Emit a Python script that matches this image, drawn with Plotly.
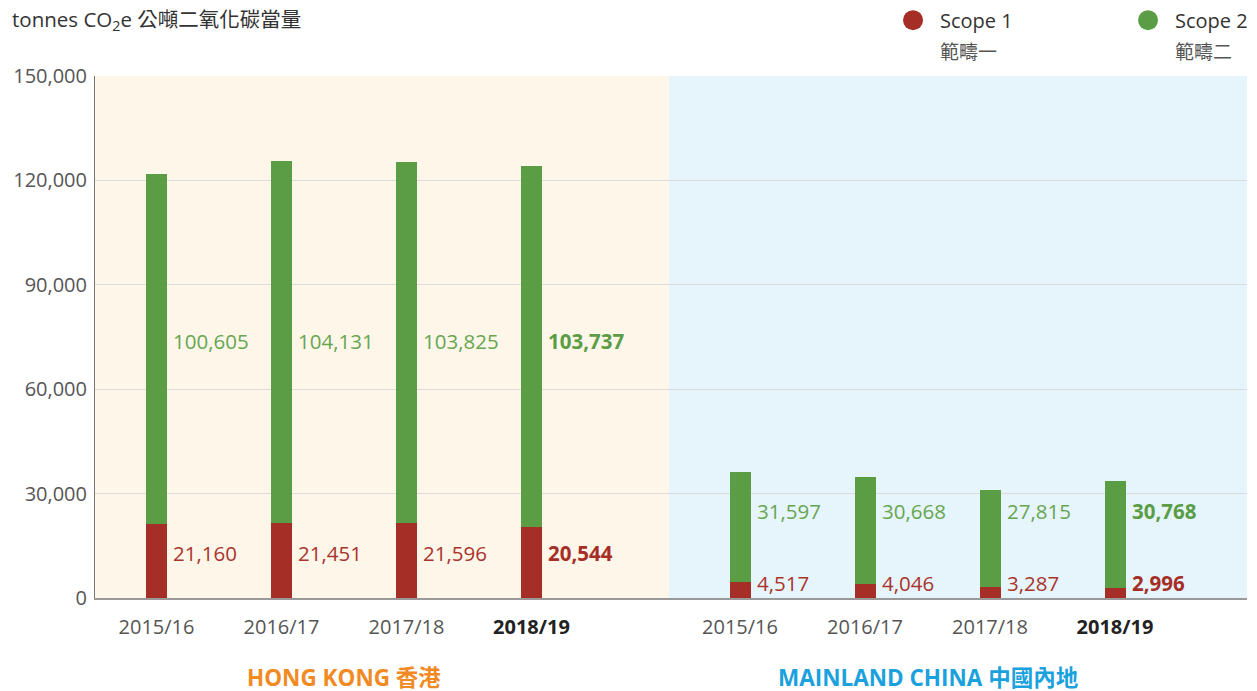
import plotly.graph_objects as go

# ---- data ----
years = ["2015/16", "2016/17", "2017/18", "2018/19"]
hk_scope1 = [21160, 21451, 21596, 20544]
hk_scope2 = [100605, 104131, 103825, 103737]
mc_scope1 = [4517, 4046, 3287, 2996]
mc_scope2 = [31597, 30668, 27815, 30768]
groups = ["HONG KONG 香港", "MAINLAND CHINA 中國內地"]
y_ticks = [0, 30000, 60000, 90000, 120000, 150000]

# ---- style / layout constants ----
RED = "#A52E27"
GREEN = "#5A9D45"
RED_TXT = "#AA342D"
GREEN_TXT = "#66A651"
FONT = "Open Sans, Noto Sans CJK TC, sans-serif"
group_offset = [0.0, 4.668]
bar_w = 0.168
label_levels = {  # y positions for value labels (scope2, scope1) per group
    0: (73850, 12930),
    1: (25000, 4310),
}

fig = go.Figure()

xs_all, ticktext = [], []
ann = []
series = [(hk_scope1, hk_scope2), (mc_scope1, mc_scope2)]
for g, (s1, s2) in enumerate(series):
    xs = [i + group_offset[g] for i in range(len(years))]
    xs_all += xs
    for i, y in enumerate(years):
        ticktext.append(f"<b><span style='color:#222222'>{y}</span></b>" if i == len(years) - 1 else y)
    fig.add_trace(go.Bar(x=xs, y=s1, width=bar_w, marker=dict(color=RED, line_width=0),
                         name="Scope 1", showlegend=False, hoverinfo="skip"))
    fig.add_trace(go.Bar(x=xs, y=s2, width=bar_w, marker=dict(color=GREEN, line_width=0),
                         name="Scope 2", showlegend=False, hoverinfo="skip"))
    lv2, lv1 = label_levels[g]
    for i, x in enumerate(xs):
        last = i == len(xs) - 1
        for val, lv, col in ((s2[i], lv2, GREEN_TXT if not last else GREEN),
                             (s1[i], lv1, RED_TXT if not last else RED)):
            txt = f"{val:,}"
            if last:
                txt = f"<b>{txt}</b>"
            ann.append(dict(x=x + bar_w / 2, y=lv, xref="x", yref="y", text=txt,
                            showarrow=False, xanchor="left", yanchor="middle", xshift=4,
                            font=dict(family=FONT, size=20.5, color=col)))

# group labels
grp_colors = ["#F28A24", "#1BA1DD"]
grp_centers = [group_offset[0] + 1.5, group_offset[1] + 1.5]
for g in range(2):
    ann.append(dict(x=grp_centers[g], y=-0.152, xref="x", yref="paper", text=f"<b>{groups[g]}</b>",
                    showarrow=False, xanchor="center", yanchor="middle",
                    font=dict(family=FONT, size=22.5, color=grp_colors[g])))

# unit title
ann.append(dict(x=-0.0738, y=1.107, xref="paper", yref="paper",
                text="tonnes CO<sub>2</sub>e 公噸二氧化碳當量", showarrow=False,
                xanchor="left", yanchor="middle", font=dict(family=FONT, size=20.5, color="#333333")))

# legend (manual)
legend_items = [("Scope 1", "範疇一", RED, 0.7101), ("Scope 2", "範疇二", GREEN, 0.9141)]
shapes = []
for name, cn, col, px in legend_items:
    shapes.append(dict(type="circle", xref="paper", yref="paper", xsizemode="pixel", ysizemode="pixel",
                       xanchor=px, yanchor=1.107, x0=-10, x1=10, y0=-10, y1=10,
                       fillcolor=col, line_width=0))
    ann.append(dict(x=px, y=1.107, xref="paper", yref="paper", text=name, showarrow=False,
                    xanchor="left", yanchor="middle", xshift=25,
                    font=dict(family=FONT, size=20, color="#333333")))
    ann.append(dict(x=px, y=1.046, xref="paper", yref="paper", text=cn, showarrow=False,
                    xanchor="left", yanchor="middle", xshift=25,
                    font=dict(family=FONT, size=19, color="#555555")))

# background panels
x_lo, x_div, x_hi = -0.492, 4.1, 8.724
shapes.insert(0, dict(type="rect", xref="x", yref="paper", x0=x_lo, x1=x_div, y0=0, y1=1,
                      fillcolor="#FEF6E9", line_width=0, layer="below"))
shapes.insert(1, dict(type="rect", xref="x", yref="paper", x0=x_div, x1=x_hi, y0=0, y1=1,
                      fillcolor="#E6F4FC", line_width=0, layer="below"))

fig.update_layout(
    barmode="stack",
    width=1257, height=691,
    margin=dict(l=95, r=10, t=76, b=93),
    paper_bgcolor="white", plot_bgcolor="rgba(0,0,0,0)",
    font=dict(family=FONT, color="#555555"),
    shapes=shapes, annotations=ann, showlegend=False,
)
fig.update_xaxes(range=[x_lo, x_hi], tickmode="array", tickvals=xs_all, ticktext=ticktext,
                 showgrid=False, zeroline=False, showline=True, linecolor="#999999", linewidth=2,
                 ticks="", ticklabelstandoff=10, tickfont=dict(family=FONT, size=20, color="#555555"))
fig.update_yaxes(range=[0, 150000], tickmode="array", tickvals=y_ticks,
                 ticktext=[f"{v:,}" for v in y_ticks], showgrid=True, gridcolor="#DCDCDC",
                 gridwidth=1, zeroline=False, showline=True, linecolor="#777777", linewidth=1,
                 ticks="", ticklabelstandoff=3, tickfont=dict(family=FONT, size=20, color="#555555"),
                 layer="below traces")

fig.write_html("out.html", config={"displayModeBar": False},
               post_script="document.body.style.margin='0';document.body.style.padding='0';document.body.style.overflow='hidden';")
